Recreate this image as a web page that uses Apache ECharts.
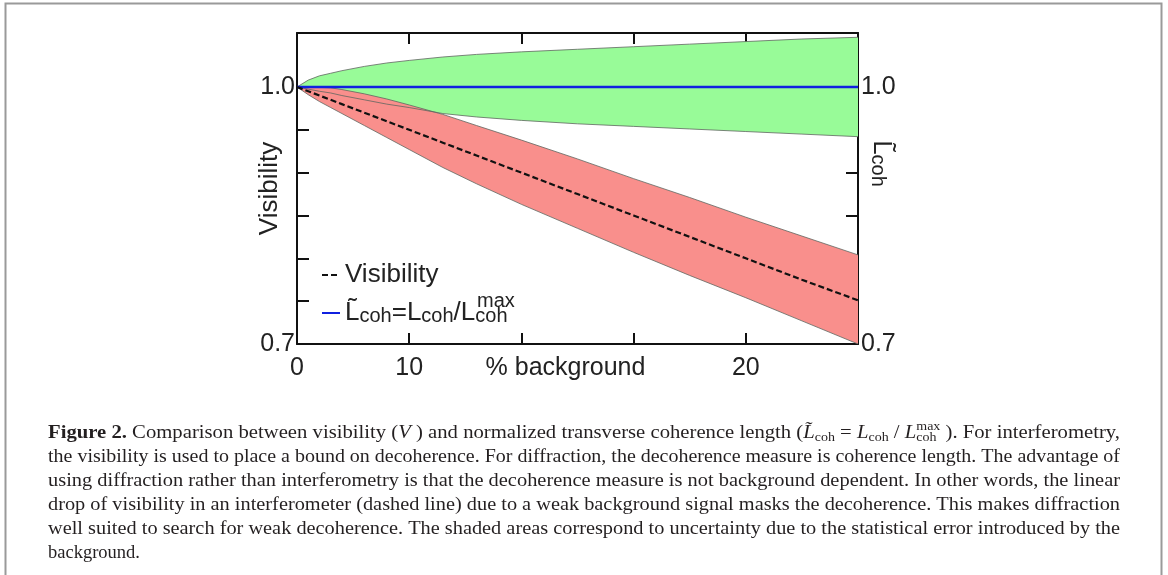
<!DOCTYPE html>
<html>
<head>
<meta charset="utf-8">
<script src="https://cdn.jsdelivr.net/npm/echarts@6/dist/echarts.min.js"></script>
<style>
html, body { margin: 0; padding: 0; background: #fff; }
#chart { width: 1168px; height: 575px; }
</style>
</head>
<body>
<div id="chart"></div>
<script>
// % background
var xs = [0, 0.5, 1, 1.5, 2, 3, 4, 5, 6.5, 8, 10, 12.5, 15, 17.5, 20, 22.5, 25];
// visibility (dashed) and normalized coherence length (blue)
var visibility = [1.0, 0.995, 0.99, 0.985, 0.98, 0.97, 0.96, 0.95, 0.935, 0.92, 0.9, 0.875, 0.85, 0.825, 0.8, 0.775, 0.751];
var lcoh = [1, 1, 1, 1, 1, 1, 1, 1, 1, 1, 1, 1, 1, 1, 1, 1, 1];
// green band (coherence length uncertainty)
var greenUpper = [1.0, 1.008, 1.013, 1.016, 1.019, 1.024, 1.028, 1.031, 1.035, 1.038, 1.041, 1.044, 1.047, 1.050, 1.053, 1.056, 1.058];
var greenLower = [1.0, 0.9975, 0.995, 0.993, 0.990, 0.985, 0.980, 0.976, 0.969, 0.965, 0.961, 0.957, 0.954, 0.951, 0.948, 0.945, 0.942];
// red band (visibility uncertainty)
var redUpper = [1.0, 1.0, 0.9995, 0.999, 0.997, 0.992, 0.986, 0.979, 0.968, 0.955, 0.938, 0.916, 0.893, 0.871, 0.848, 0.826, 0.804];
var redLower = [1.0, 0.991, 0.983, 0.976, 0.969, 0.955, 0.941, 0.927, 0.906, 0.887, 0.863, 0.835, 0.807, 0.780, 0.754, 0.727, 0.700];
// ticks
var xTicks = [0, 5, 10, 15, 20, 25];
var xTickLabels = ['0', '10', '', '', '20', ''];
var yTicks = [0.7, 0.75, 0.8, 0.85, 0.9, 0.95, 1.0];
var yLabelValues = [0.7, 1.0];

var captionLines = [
    'the visibility is used to place a bound on decoherence. For diffraction, the decoherence measure is coherence length. The advantage of',
    'using diffraction rather than interferometry is that the decoherence measure is not background dependent. In other words, the linear',
    'drop of visibility in an interferometer (dashed line) due to a weak background signal masks the decoherence. This makes diffraction',
    'well suited to search for weak decoherence. The shaded areas correspond to uncertainty due to the statistical error introduced by the',
    'background.'
];

var SANS = 'Liberation Sans, Arial, sans-serif';
var SERIF = 'Liberation Serif, Times New Roman, serif';

function pairs(ys) {
    return xs.map(function (x, i) { return [x, ys[i]]; });
}

function band(lower, upper, color) {
    return {
        type: 'custom',
        silent: true,
        clip: true,
        data: xs.map(function (x, i) { return [x, lower[i], upper[i]]; }),
        encode: { x: 0, y: [1, 2] },
        renderItem: function (params, api) {
            if (params.dataIndex !== 0) return null;
            var pts = [];
            for (var i = 0; i < xs.length; i++) pts.push(api.coord([xs[i], upper[i]]));
            for (var j = xs.length - 1; j >= 0; j--) pts.push(api.coord([xs[j], lower[j]]));
            return { type: 'polygon', shape: { points: pts }, style: { fill: color } };
        }
    };
}

function edge(ys) {
    return {
        type: 'line', data: pairs(ys), symbol: 'none', silent: true,
        lineStyle: { color: '#5f665f', width: 0.8 }, z: 3
    };
}

// caption layout helpers
var ctx = document.createElement('canvas').getContext('2d');
function fontStr(st, w, sz, fam) { return st + ' ' + w + ' ' + sz + 'px ' + fam; }
function tw(t, st, w, sz) { ctx.font = fontStr(st, w, sz, SERIF); return ctx.measureText(t).width; }

var CAP = 18.5, SUB = 12.5, capLeft = 48, capRight = 1120;
var capColor = '#231f20';
var graphics = [];

graphics.push({
    type: 'rect', silent: true,
    shape: { x: 5.5, y: 3.5, width: 1156, height: 620 },
    style: { fill: 'none', stroke: '#9a9a9a', lineWidth: 2 }
});

// first caption line with math pieces
var line1 = [
    { t: 'Figure 2.', w: 'bold' },
    { t: ' Comparison between visibility (' },
    { t: 'V', st: 'italic' },
    { t: ' ) and normalized transverse coherence length (' },
    { t: 'L\u0303', st: 'italic' },
    { t: 'coh', sub: 1 },
    { t: ' = ' },
    { t: 'L', st: 'italic' },
    { t: 'coh', sub: 1 },
    { t: ' / ' },
    { t: 'L', st: 'italic' },
    { t: 'coh', sub: 1, sup: 'max' },
    { t: ' ). For interferometry,' }
];
function pieceWidth(p) {
    if (p.sub) {
        var a = tw(p.t, 'normal', 'normal', SUB);
        var b = p.sup ? tw(p.sup, 'normal', 'normal', SUB) : 0;
        return Math.max(a, b);
    }
    return tw(p.t, p.st || 'normal', p.w || 'normal', CAP);
}
var total1 = 0;
line1.forEach(function (p) { total1 += pieceWidth(p); });
var s1 = (capRight - capLeft) / total1;
var cx = capLeft, y1 = 433;
line1.forEach(function (p) {
    var sz = p.sub ? SUB : CAP;
    graphics.push({
        type: 'text', x: cx, y: y1 + (p.sub ? 5 : 0), scaleX: s1, silent: true,
        style: { text: p.t, fontFamily: SERIF, fontSize: sz, fontStyle: p.st || 'normal',
            fontWeight: p.w || 'normal', fill: capColor, verticalAlign: 'middle', align: 'left' }
    });
    if (p.sup) {
        graphics.push({
            type: 'text', x: cx, y: y1 - 6, scaleX: s1, silent: true,
            style: { text: p.sup, fontFamily: SERIF, fontSize: SUB, fill: capColor,
                verticalAlign: 'middle', align: 'left' }
        });
    }
    cx += pieceWidth(p) * s1;
});
captionLines.forEach(function (t, k) {
    var w = tw(t, 'normal', 'normal', CAP);
    var sc = k < captionLines.length - 1 ? (capRight - capLeft) / w : 1;
    graphics.push({
        type: 'text', x: capLeft, y: 457 + k * 24, scaleX: sc, silent: true,
        style: { text: t, fontFamily: SERIF, fontSize: CAP, fill: capColor,
            verticalAlign: 'middle', align: 'left' }
    });
});
// superscript of the legend formula
graphics.push({
    type: 'text', x: 477, y: 301, silent: true,
    style: { text: 'max', fontFamily: SANS, fontSize: 20, fill: '#222', verticalAlign: 'middle', align: 'left' }
});

var axisLineStyle = { show: true, onZero: false, lineStyle: { color: '#111', width: 2 } };
function tickStyle(vals, len) {
    return { show: true, inside: true, length: len, customValues: vals, lineStyle: { color: '#111', width: 2 } };
}

var myChart = echarts.init(document.getElementById('chart'), null, { renderer: 'canvas' });
var option = {
    backgroundColor: '#fff',
    animation: false,
    textStyle: { fontFamily: SANS },
    grid: { left: 297, right: 310, top: 33, bottom: 231, containLabel: false },
    legend: {
        orient: 'vertical',
        left: 316,
        top: 255,
        itemWidth: 18,
        itemHeight: 10,
        itemGap: 10,
        selectedMode: false,
        itemStyle: { opacity: 0 },
        data: ['Visibility', 'Lcoh'],
        formatter: function (name) {
            if (name === 'Visibility') return 'Visibility';
            return '{n|L\u0303}{s|coh}{n|=L}{s|coh}{n|/L}{s|coh}';
        },
        textStyle: {
            fontFamily: SANS, fontSize: 26, color: '#222', lineHeight: 30,
            rich: {
                n: { fontFamily: SANS, fontSize: 26, color: '#222', lineHeight: 26, verticalAlign: 'top', padding: [0, 0, 12, 0] },
                s: { fontFamily: SANS, fontSize: 20, color: '#222', lineHeight: 20, verticalAlign: 'bottom' }
            }
        }
    },
    xAxis: [
        {
            type: 'value', position: 'bottom', min: 0, max: 25, interval: 5,
            name: '% background', nameLocation: 'middle', nameGap: 12, nameMoveOverlap: false,
            nameTextStyle: { fontFamily: SANS, fontSize: 25, color: '#222', verticalAlign: 'top', padding: [0, 24, 0, 0] },
            axisLine: axisLineStyle,
            axisTick: tickStyle(xTicks, 11),
            axisLabel: {
                margin: 12, fontFamily: SANS, fontSize: 25, color: '#222',
                formatter: function (v) { var i = xTicks.indexOf(v); return i >= 0 ? xTickLabels[i] : ''; }
            },
            splitLine: { show: false }
        },
        {
            type: 'value', position: 'top', min: 0, max: 25, interval: 5,
            axisLine: axisLineStyle,
            axisTick: tickStyle(xTicks, 11),
            axisLabel: { show: false },
            splitLine: { show: false }
        }
    ],
    yAxis: [
        {
            type: 'value', position: 'left', min: 0.7, max: 1.063,
            name: 'Visibility', nameLocation: 'middle', nameGap: 14, nameMoveOverlap: false,
            nameTextStyle: { fontFamily: SANS, fontSize: 26, color: '#222' },
            axisLine: axisLineStyle,
            axisTick: tickStyle(yTicks, 12),
            axisLabel: {
                customValues: yLabelValues, margin: 2, fontFamily: SANS, fontSize: 25, color: '#222',
                formatter: function (v) { return v.toFixed(1); }
            },
            splitLine: { show: false }
        },
        {
            type: 'value', position: 'right', min: 0.7, max: 1.063,
            name: '{l|L\u0303}{s|coh}', nameLocation: 'middle', nameGap: 10, nameRotate: -90, nameMoveOverlap: false,
            nameTextStyle: {
                padding: [0, 50, 0, 0],
                rich: {
                    l: { fontFamily: SANS, fontSize: 26, color: '#222', lineHeight: 26, verticalAlign: 'top', padding: [0, 0, 10, 0] },
                    s: { fontFamily: SANS, fontSize: 20, color: '#222', lineHeight: 20, verticalAlign: 'bottom' }
                }
            },
            axisLine: axisLineStyle,
            axisTick: tickStyle(yTicks, 12),
            axisLabel: {
                customValues: yLabelValues, margin: 3, fontFamily: SANS, fontSize: 25, color: '#222',
                formatter: function (v) { return v.toFixed(1); }
            },
            splitLine: { show: false }
        }
    ],
    series: [
        band(greenLower, greenUpper, '#98fb98'),
        band(redLower, redUpper, '#f98f8c'),
        edge(greenUpper),
        edge(greenLower),
        edge(redUpper),
        edge(redLower),
        {
            name: 'Lcoh', type: 'line', data: pairs(lcoh), symbol: 'none', z: 5,
            lineStyle: { color: '#1020e0', width: 2.5 }, itemStyle: { color: '#1020e0' }
        },
        {
            name: 'Visibility', type: 'line', data: pairs(visibility), symbol: 'none', z: 6,
            lineStyle: { color: '#111', width: 2.2, type: [6, 3] }, itemStyle: { color: '#111' }
        }
    ],
    graphic: graphics
};
myChart.setOption(option);
</script>
</body>
</html>
